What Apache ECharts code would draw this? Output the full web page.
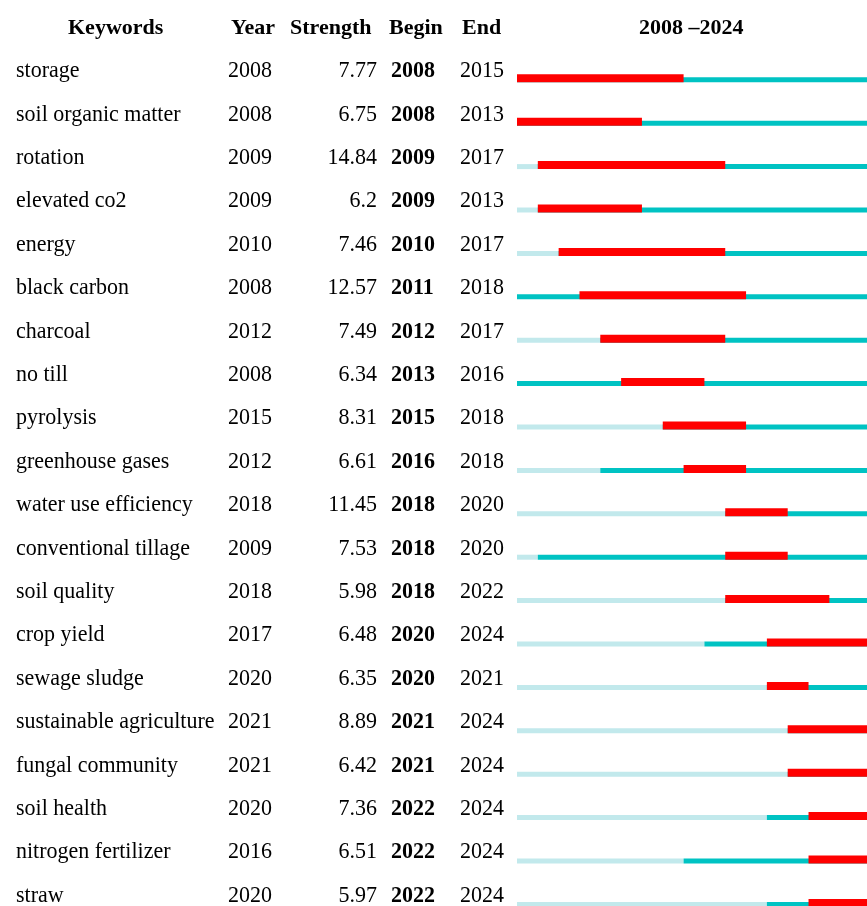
<!DOCTYPE html>
<html>
<head>
<meta charset="utf-8">
<script src="https://cdn.jsdelivr.net/npm/echarts@6/dist/echarts.min.js"></script>
<style>
html,body{margin:0;padding:0;background:#fff;}
#main{width:867px;height:906px;}
</style>
</head>
<body>
<div id="main"></div>
<script>
const keywords = ['storage','soil organic matter','rotation','elevated co2','energy','black carbon','charcoal','no till','pyrolysis','greenhouse gases','water use efficiency','conventional tillage','soil quality','crop yield','sewage sludge','sustainable agriculture','fungal community','soil health','nitrogen fertilizer','straw'];
const years = [2008,2008,2009,2009,2010,2008,2012,2008,2015,2012,2018,2009,2018,2017,2020,2021,2021,2020,2016,2020];
const strengths = ['7.77','6.75','14.84','6.2','7.46','12.57','7.49','6.34','8.31','6.61','11.45','7.53','5.98','6.48','6.35','8.89','6.42','7.36','6.51','5.97'];
const begins = [2008,2008,2009,2009,2010,2011,2012,2013,2015,2016,2018,2018,2018,2020,2020,2021,2021,2022,2022,2022];
const ends = [2015,2013,2017,2013,2017,2018,2017,2016,2018,2018,2020,2020,2022,2024,2021,2024,2024,2024,2024,2024];
const rangeStart = 2008, rangeEnd = 2024;
const headers = ['Keywords','Year','Strength','Begin','End'];
const rangeTitle = '2008 \u20132024';

const FONT = '"Liberation Serif", "Times New Roman", serif';
const rows = keywords.map((k, i) => [i, years[i], begins[i], ends[i]]);

const chart = echarts.init(document.getElementById('main'), null, {renderer: 'canvas'});
chart.setOption({
  backgroundColor: '#fff',
  animation: false,
  grid: {left: 517, top: 48.3, width: 354, height: 868, containLabel: false, outerBoundsMode: 'none'},
  xAxis: {type: 'value', min: rangeStart, max: rangeEnd + 1, show: false},
  yAxis: {type: 'category', data: keywords, inverse: true, show: false},
  graphic: [
    {type: 'text', left: 68, top: 17, style: {text: headers[0], font: 'bold 22px ' + FONT, fill: '#000'}},
    {type: 'text', left: 231, top: 17, style: {text: headers[1], font: 'bold 22px ' + FONT, fill: '#000'}},
    {type: 'text', left: 290, top: 17, style: {text: headers[2], font: 'bold 22px ' + FONT, fill: '#000'}},
    {type: 'text', left: 389, top: 17, style: {text: headers[3], font: 'bold 22px ' + FONT, fill: '#000'}},
    {type: 'text', left: 462, top: 17, style: {text: headers[4], font: 'bold 22px ' + FONT, fill: '#000'}},
    {type: 'text', left: 639, top: 17, style: {text: rangeTitle, font: 'bold 22px ' + FONT, fill: '#000'}}
  ],
  series: [
    {
      type: 'custom',
      data: rows,
      encode: {x: [1, 2, 3], y: 0},
      clip: false,
      renderItem: function (params, api) {
        const i = api.value(0);
        const yr = api.value(1), b = api.value(2), e = api.value(3);
        const p0 = api.coord([rangeStart, i]);
        const pY = api.coord([yr, i]);
        const pEnd = api.coord([rangeEnd + 1, i]);
        const pB = api.coord([b, i]);
        const pE = api.coord([e + 1, i]);
        const cy = p0[1];
        const children = [];
        if (pY[0] > p0[0]) {
          children.push({type: 'rect', shape: {x: p0[0], y: cy + 7.3, width: pY[0] - p0[0], height: 5}, style: {fill: '#c2e9ec'}});
        }
        children.push({type: 'rect', shape: {x: pY[0], y: cy + 7.3, width: pEnd[0] - pY[0], height: 5}, style: {fill: '#00c3c3'}});
        children.push({type: 'rect', shape: {x: pB[0], y: cy + 4.3, width: pE[0] - pB[0], height: 8}, style: {fill: '#ff0000'}});
        return {type: 'group', children: children};
      }
    },
    {
      type: 'custom',
      data: rows,
      encode: {x: 1, y: 0},
      clip: false,
      renderItem: function (params, api) {
        const i = api.value(0);
        const cy = api.coord([rangeStart, i])[1] + 1;
        const f = '22px ' + FONT;
        const fb = 'bold 22px ' + FONT;
        const mk = (text, x, align, font) => ({type: 'text', originX: x, originY: cy, scaleY: 1.08, style: {text: String(text), x: x, y: cy, align: align, verticalAlign: 'middle', font: font, fill: '#000'}});
        return {type: 'group', children: [
          mk(keywords[i], 16, 'left', f),
          mk(years[i], 228, 'left', f),
          mk(strengths[i], 377, 'right', f),
          mk(begins[i], 391, 'left', fb),
          mk(ends[i], 460, 'left', f)
        ]};
      }
    }
  ]
});
</script>
</body>
</html>
